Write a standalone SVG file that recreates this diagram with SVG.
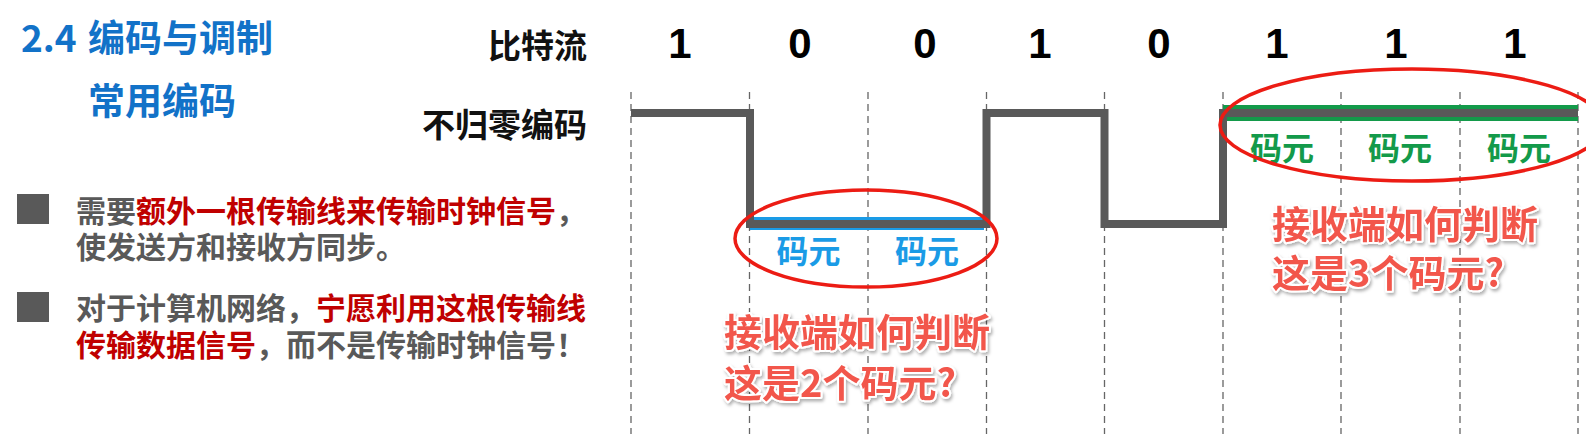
<svg xmlns="http://www.w3.org/2000/svg" width="1586" height="434" viewBox="0 0 1586 434">
  <defs>
    <style>
      .cjk { font-family: "Noto Sans CJK SC", "Noto Sans", sans-serif; font-weight: 700; }
      .title { fill: #1272c8; font-size: 37px; }
      .label { fill: #111; font-size: 33px; }
      .bit { font-family: "Liberation Sans", Arial, sans-serif; font-weight: 700; font-size: 42px; fill: #000; text-anchor: middle; }
      .grid { stroke: #666; stroke-width: 1.3; stroke-dasharray: 7 5; fill: none; }
      .sig { stroke: #595959; stroke-width: 8; fill: none; stroke-linejoin: miter; stroke-linecap: butt; }
      .oval { stroke: #ec1c14; stroke-width: 3.5; fill: none; }
      .blueT { fill: #1a9be6; font-size: 32px; text-anchor: middle; }
      .greenT { fill: #139a4a; font-size: 32px; text-anchor: middle; }
      .q { fill: #f2564b; font-size: 38px; stroke: #fff; stroke-width: 4; paint-order: stroke; stroke-linejoin: round; }
      .b { font-size: 30px; }
      .g { fill: #595959; }
      .r { fill: #c00000; }
      .sq { fill: #595959; }
    </style>
    <filter id="shadow" x="-10%" y="-20%" width="120%" height="150%">
      <feDropShadow dx="1.5" dy="2.5" stdDeviation="1.6" flood-color="#000" flood-opacity="0.3"/>
    </filter>
  </defs>
  <rect width="1586" height="434" fill="#fff"/>

  <g id="title" class="cjk title">
    <text y="52"><tspan x="21">2.4</tspan><tspan x="88">编码与调制</tspan></text>
    <text x="88" y="115">常用编码</text>
  </g>

  <g id="row-labels" class="cjk label">
    <text x="587" y="58" text-anchor="end">比特流</text>
    <text x="587" y="137" text-anchor="end">不归零编码</text>
  </g>

  <g id="bits" class="bit">
    <text x="680" y="58">1</text>
    <text x="800" y="58">0</text>
    <text x="925" y="58">0</text>
    <text x="1040" y="58">1</text>
    <text x="1159" y="58">0</text>
    <text x="1277" y="58">1</text>
    <text x="1396" y="58">1</text>
    <text x="1515" y="58">1</text>
  </g>

  <g id="grid" class="grid">
    <line x1="631" y1="92" x2="631" y2="434"/>
    <line x1="749.5" y1="92" x2="749.5" y2="434"/>
    <line x1="868" y1="92" x2="868" y2="434"/>
    <line x1="986.5" y1="92" x2="986.5" y2="434"/>
    <line x1="1104.5" y1="92" x2="1104.5" y2="434"/>
    <line x1="1223" y1="92" x2="1223" y2="434"/>
    <line x1="1341" y1="92" x2="1341" y2="434"/>
    <line x1="1460" y1="92" x2="1460" y2="434"/>
    <line x1="1578" y1="92" x2="1578" y2="434"/>
  </g>

  <g id="connectors">
    <rect x="750" y="217" width="234" height="13" fill="#1a9be6"/>
    <rect x="1223" y="105" width="355" height="16" fill="#139a4a"/>
    <path class="sig" d="M631 113 H750 V224 H986.5 V113 H1104.5 V224 H1223 V113 H1578"/>
  </g>

  <g id="symbols-2" class="cjk">
    <text class="blueT" x="808.5" y="263">码元</text>
    <text class="blueT" x="927" y="263">码元</text>
    <ellipse class="oval" cx="866" cy="238.5" rx="131" ry="48.5"/>
  </g>

  <g id="symbols-3" class="cjk">
    <text class="greenT" x="1282" y="160">码元</text>
    <text class="greenT" x="1400" y="160">码元</text>
    <text class="greenT" x="1519" y="160">码元</text>
    <ellipse class="oval" cx="1412" cy="125" rx="192" ry="56"/>
  </g>

  <g id="question-2" class="cjk q" filter="url(#shadow)">
    <text x="724" y="346">接收端如何判断</text>
    <text x="724" y="397">这是2个码元?</text>
  </g>

  <g id="question-3" class="cjk q" filter="url(#shadow)">
    <text x="1272" y="238">接收端如何判断</text>
    <text x="1272" y="287">这是3个码元?</text>
  </g>

  <g id="bullet-1" class="cjk b">
    <rect class="sq" x="17" y="194" width="32" height="30"/>
    <text x="76" y="222"><tspan class="g">需要</tspan><tspan class="r">额外一根传输线来传输时钟信号</tspan><tspan class="g">，</tspan></text>
    <text x="76" y="258" class="g">使发送方和接收方同步。</text>
  </g>

  <g id="bullet-2" class="cjk b">
    <rect class="sq" x="17" y="292" width="32" height="30"/>
    <text x="76" y="319"><tspan class="g">对于计算机网络，</tspan><tspan class="r">宁愿利用这根传输线</tspan></text>
    <text x="76" y="356"><tspan class="r">传输数据信号</tspan><tspan class="g">，而不是传输时钟信号！</tspan></text>
  </g>
</svg>
